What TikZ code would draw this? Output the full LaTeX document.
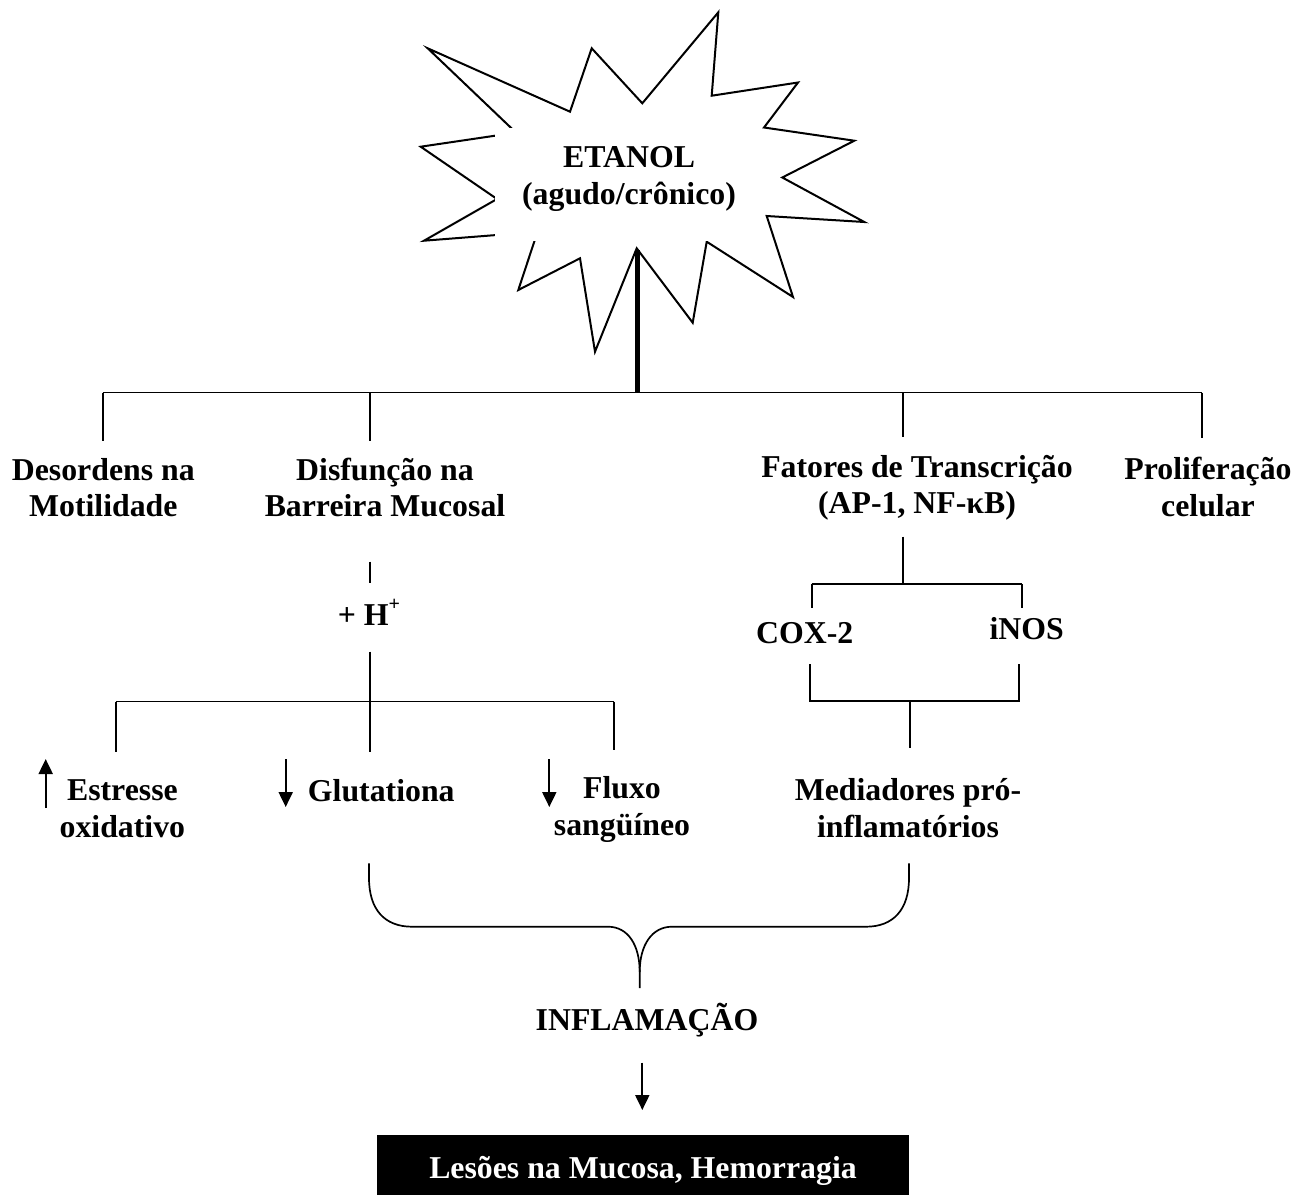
\documentclass[tikz,border=0pt]{standalone}
\usepackage{fontspec}
\setmainfont{Liberation Serif}
\usetikzlibrary{arrows.meta}
\begin{document}
\begin{tikzpicture}[x=1pt,y=-1pt,
  lbl/.style={font=\bfseries\fontsize{31.8}{36.8}\selectfont, inner sep=0pt, align=center, anchor=base},
  ln/.style={line width=1.7pt},
  trunk/.style={line width=5pt},
  starline/.style={line width=2pt, line join=miter},
  vararrow/.style={line width=2pt, -{Triangle[length=15pt,width=14pt]}},
  blackbox/.style={fill=black, text=white, inner sep=0pt, minimum width=532pt,
    text height=44pt, text depth=16pt, font=\bfseries\fontsize{31.8}{36.8}\selectfont},
]
\useasboundingbox (0,0) rectangle (1313,1203);
% starburst
\draw[starline] (427.7,48.3) -- (570,111.7) -- (591.7,48.3) -- (642.3,103.3) -- (718.3,12.3)
  -- (711.7,95.7) -- (798,82.5) -- (764,127.5) -- (854.3,140.7) -- (782.3,177.5)
  -- (864.3,222) -- (766.7,216) -- (793,297) -- (706.7,241.7) -- (692.7,322.7)
  -- (636.7,248.3) -- (595,351.7) -- (580,258.3) -- (518.3,290) -- (537.5,231.8)
  -- (424,240.7) -- (497,199) -- (420.7,146.7) -- (516,132.6) -- cycle;
\fill[white] (495,127.5) rectangle (760,240.8);
% (base anchor of a two-line label = baseline of its last line)
\node[lbl] (etanol) at (629,204.5) {ETANOL\\(agudo/crônico)};

% first level
\coordinate (starbot) at (637.5,250);
\coordinate (hub) at (637.5,392.5);
\coordinate (hl) at (102.7,392.5);
\coordinate (hr) at (1201.7,392.5);
\coordinate (b1) at (370,392.5);
\coordinate (b3) at (902.7,392.5);
\draw[trunk] (starbot) -- (hub);
\draw[ln] (hl) -- (hr);
\draw[ln] (hl) -- (102.7,441);
\draw[ln] (b1) -- (370,441);
\draw[ln] (b3) -- (902.7,437.3);
\draw[ln] (hr) -- (1201.7,438.3);

\node[lbl] (desord) at (103.3,516.8) {Desordens na\\Motilidade};
\node[lbl] (disf) at (385,516.8) {Disfunção na\\Barreira Mucosal};
\node[lbl] (fator) at (917,513.8) {Fatores de Transcrição\\(AP-1, NF-κB)};
\node[lbl] (prolif) at (1208,516.3) {Proliferação\\celular};

% left branch
\draw[ln] (370,561.7) -- (370,583.3);
\node[lbl] (hplus) at (369,625) {+ H\raisebox{15pt}{\fontsize{20}{20}\selectfont +}};
\coordinate (j2) at (370,701.5);
\draw[ln] (370,651.7) -- (j2);
\draw[ln] (115.7,701.5) -- (614,701.5);
\draw[ln] (115.7,701.5) -- (115.7,751.7);
\draw[ln] (j2) -- (370,751.7);
\draw[ln] (614,701.5) -- (614,750);

\coordinate (up1s) at (45.7,808);
\coordinate (up1e) at (45.7,759);
\coordinate (dn1s) at (285.7,759);
\coordinate (dn1e) at (285.7,807);
\coordinate (dn2s) at (549.3,759);
\coordinate (dn2e) at (549.3,807);
\draw[vararrow] (up1s) -- (up1e);
\draw[vararrow] (dn1s) -- (dn1e);
\draw[vararrow] (dn2s) -- (dn2e);

\node[lbl] (estr) at (122.4,837) {Estresse\\oxidativo};
\node[lbl] (gluta) at (381.3,801.7) {Glutationa};
\node[lbl] (fluxo) at (622,835) {Fluxo\\sangüíneo};

% right branch
\draw[ln] (902.7,536.7) -- (902.7,584);
\draw[ln] (811.7,584) -- (1021.7,584);
\draw[ln] (811.7,584) -- (811.7,608.3);
\draw[ln] (1021.7,584) -- (1021.7,608.3);
\node[lbl] (cox) at (804.7,643.3) {COX-2};
\node[lbl] (inos) at (1026.7,639) {iNOS};
\draw[ln] (810,664) -- (810,700.7) -- (1019,700.7) -- (1019,664);
\draw[ln] (910,700.7) -- (910,748.3);
\node[lbl] (medi) at (908,837) {Mediadores pró-\\inflamatórios};

% brace
\draw[ln] (369,863.3) -- (369,878) .. controls (369,910) and (385,926.7) .. (412,926.7)
  -- (608,926.7) .. controls (628,926.7) and (639.7,945) .. (639.7,972) -- (639.7,988);
\draw[ln] (909,863.3) -- (909,878) .. controls (909,910) and (893,926.7) .. (866,926.7)
  -- (672,926.7) .. controls (652,926.7) and (639.7,945) .. (639.7,972);

\node[lbl] (infl) at (647,1030) {INFLAMAÇÃO};
\coordinate (ars) at (642.3,1062.7);
\coordinate (are) at (642.3,1110);
\draw[vararrow] (ars) -- (are);
\node[blackbox, anchor=north] (lesoes) at (643,1134.3) {Lesões na Mucosa, Hemorragia};
\end{tikzpicture}
\end{document}
